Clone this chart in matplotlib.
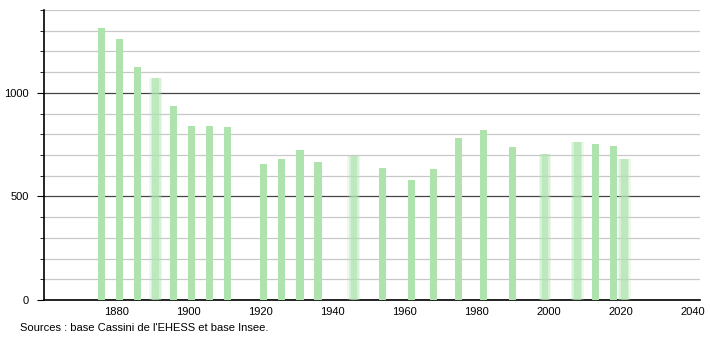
import matplotlib.pyplot as plt
from matplotlib.ticker import MultipleLocator

years = [1876, 1881, 1886, 1891, 1896, 1901, 1906, 1911, 1921, 1926, 1931, 1936,
         1946, 1954, 1962, 1968, 1975, 1982, 1990, 1999, 2008, 2013, 2018, 2021]
population = [1314, 1259, 1125, 1071, 935, 838, 838, 833, 655, 683, 722, 665,
              696, 636, 578, 631, 780, 820, 739, 704, 764, 752, 744, 680]
# bars that look smeared in the original image
blurred = [1891, 1946, 1999, 2008, 2021]

plt.rcParams['font.family'] = ['Liberation Sans', 'DejaVu Sans']

fig = plt.figure(figsize=(7.1, 3.4), dpi=100)
ax = fig.add_axes([44 / 710, 40 / 340, 656 / 710, 290 / 340])

green = '#aee3ae'
for y, p in zip(years, population):
    if y in blurred:
        for w, a in [(3.6, 0.2), (2.8, 0.35), (1.8, 0.6)]:
            ax.bar(y, p, width=w, color=green, alpha=a, linewidth=0, zorder=3)
    else:
        ax.bar(y, p, width=2.0, color=green, linewidth=0, zorder=3)

ax.set_xlim(1860, 2042)
ax.set_ylim(0, 1400)

ax.yaxis.set_major_locator(MultipleLocator(500))
ax.yaxis.set_minor_locator(MultipleLocator(100))
ax.set_xticks(range(1880, 2041, 20))

ax.grid(axis='y', which='minor', color='#c8c8c8', linewidth=0.9, zorder=1)
ax.grid(axis='y', which='major', color='#444444', linewidth=0.9, zorder=2)

for s in ['top', 'right']:
    ax.spines[s].set_visible(False)
ax.spines['left'].set_linewidth(1.2)
ax.spines['bottom'].set_linewidth(1.2)

ax.tick_params(axis='y', which='major', length=5, labelsize=8, pad=6)
ax.tick_params(axis='y', which='minor', length=3)
ax.tick_params(axis='x', length=0, labelsize=8, pad=5)

fig.text(20 / 710, 12 / 340, "Sources : base Cassini de l'EHESS et base Insee.",
         fontsize=8, ha='left', va='center')

fig.savefig('out.png', dpi=100)
